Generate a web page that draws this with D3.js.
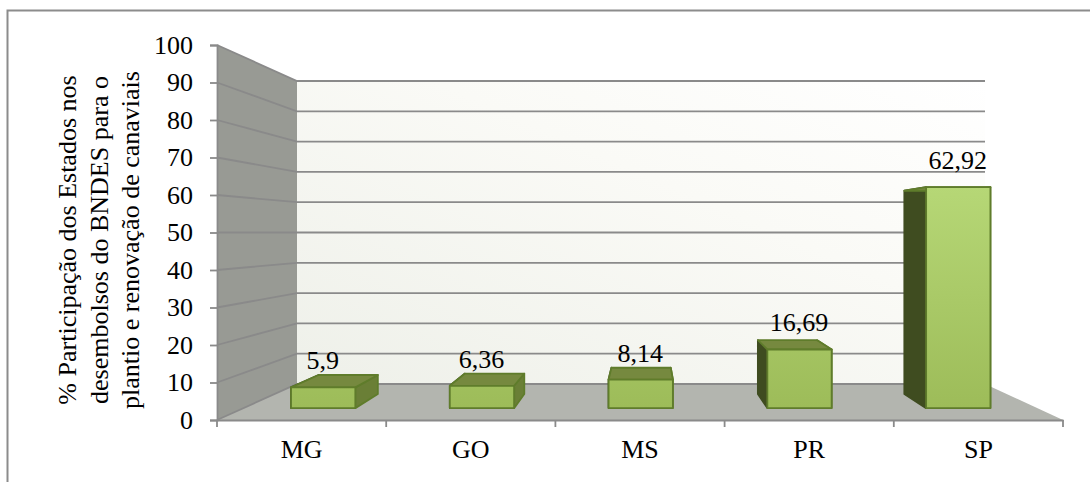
<!DOCTYPE html>
<html><head><meta charset="utf-8">
<style>html,body{margin:0;padding:0;background:#fff}svg{display:block}text{font-family:"Liberation Serif",serif;fill:#000}</style>
<script src="https://cdn.jsdelivr.net/npm/d3@7/dist/d3.min.js"></script>
</head><body>
<script>
// Disbursement share by state
const states = ["MG","GO","MS","PR","SP"];
const shares = [5.9,6.36,8.14,16.69,62.92];
const shareLabels = ["5,9","6,36","8,14","16,69","62,92"];
const yTicks = d3.range(0,101,10);
const titleLines = ["% Participação dos Estados nos","desembolsos do BNDES para o","plantio e renovação de canaviais"];

const W=1090,H=482,FONT=26;
const svg=d3.select("body").append("svg").attr("width",W).attr("height",H);

// Perspective box: depth 0 is the front plane, depth 1 the back wall
const left=d3.scaleLinear().domain([0,1]).range([217,297]);
const right=d3.scaleLinear().domain([0,1]).range([1063,985]);
const base=d3.scaleLinear().domain([0,1]).range([420,384]);
const perUnit=d3.scaleLinear().domain([0,1]).range([3.75,3.03]);
const band=d3.scaleLinear().domain([0,5]);
const px=(c,z)=>band.range([left(z),right(z)])(c);
const py=(v,z)=>base(z)-perUnit(z)*v;
const poly=pts=>pts.map(p=>p.join(",")).join(" ");

const defs=svg.append("defs");
const wallG=defs.append("linearGradient").attr("id","wall").attr("x1","0").attr("y1","1").attr("x2","1").attr("y2","0");
wallG.append("stop").attr("offset","0").attr("stop-color","#eef0e9");
wallG.append("stop").attr("offset","0.6").attr("stop-color","#fafaf6");
wallG.append("stop").attr("offset","1").attr("stop-color","#ffffff");
const barG=defs.append("linearGradient").attr("id","bar").attr("gradientUnits","userSpaceOnUse").attr("x1",0).attr("x2",0).attr("y1",py(62.92,.33)).attr("y2",base(.33));
barG.append("stop").attr("offset","0").attr("stop-color","#b6d776");
barG.append("stop").attr("offset","1").attr("stop-color","#9dbc59");

// Outer frame, open on the right and bottom
svg.append("path").attr("d","M7.5,482V10.5H1090").attr("fill","none").attr("stroke","#8c8c8c").attr("stroke-width",2);

// Back wall, side wall and floor
svg.append("rect").attr("x",left(1)).attr("y",py(100,1)).attr("width",right(1)-left(1)).attr("height",base(1)-py(100,1)).attr("fill","url(#wall)");
svg.append("polygon").attr("fill","#989a94").attr("points",poly([[left(0),py(100,0)],[left(1),py(100,1)],[left(1),base(1)],[left(0),base(0)]]));
svg.append("polygon").attr("fill","#b3b5af").attr("points",poly([[left(0),base(0)],[left(1),base(1)],[right(1),base(1)],[right(0),base(0)]]));

// Gridlines running across the side wall and the back wall
const grid=svg.append("g").attr("fill","none").attr("stroke","#8a8a8a").attr("stroke-width",1.8);
grid.selectAll("polyline").data(yTicks).join("polyline")
  .attr("points",v=>poly([[left(0),py(v,0)],[left(1),py(v,1)],[right(1),py(v,1)]]));

// Front value axis and category axis
const yScale=d3.scaleLinear().domain([0,100]).range([py(0,0),py(100,0)]);
const xScale=d3.scaleBand().domain(states).range([left(0),right(0)]);
const yAxis=svg.append("g").attr("transform",`translate(${left(0)},0)`)
  .call(d3.axisLeft(yScale).tickValues(yTicks).tickSize(7).tickPadding(17).tickFormat(d3.format("d")));
const xAxis=svg.append("g").attr("transform",`translate(0,${base(0)})`)
  .call(d3.axisBottom(xScale).tickSize(0).tickPadding(20));
[yAxis,xAxis].forEach(a=>{
  a.selectAll("path,line").attr("stroke","#8a8a8a").attr("stroke-width",1.8);
  a.selectAll("text").attr("font-size",FONT).attr("font-family",'"Liberation Serif",serif').attr("fill","#000");
});
xAxis.selectAll(".tick text").attr("dy","0.71em");
xAxis.selectAll("line.sep").data(d3.range(0,6)).join("line").attr("class","sep")
  .attr("x1",c=>px(c,0)).attr("x2",c=>px(c,0)).attr("y1",0).attr("y2",7)
  .attr("stroke","#8a8a8a").attr("stroke-width",1.8);

// Bars as boxes in perspective
const zF=.33,zB=.72,c0=.3,c1=.705;
const bars=svg.append("g").attr("stroke","#5f7c2b").attr("stroke-width",1.8).attr("stroke-linejoin","round");
shares.forEach((v,i)=>{
  const l=i+c0,r=i+c1;
  const g=bars.append("g");
  g.append("polygon").attr("fill","#3f4c20").attr("stroke","#3f4c20")
    .attr("points",poly([[px(l,zF),py(0,zF)],[px(l,zB),py(0,zB)],[px(l,zB),py(v,zB)],[px(l,zF),py(v,zF)]]));
  g.append("polygon").attr("fill","#6a7f36").attr("points",poly([[px(r,zF),py(0,zF)],[px(r,zB),py(0,zB)],[px(r,zB),py(v,zB)],[px(r,zF),py(v,zF)]]));
  g.append("polygon").attr("fill","#76893f").attr("points",poly([[px(l,zF),py(v,zF)],[px(l,zB),py(v,zB)],[px(r,zB),py(v,zB)],[px(r,zF),py(v,zF)]]));
  g.append("rect").attr("x",px(l,zF)).attr("y",py(v,zF)).attr("width",px(r,zF)-px(l,zF)).attr("height",py(0,zF)-py(v,zF)).attr("fill","url(#bar)");
});

// Value labels above each bar
svg.append("g").selectAll("text").data(shares).join("text")
  .attr("x",(d,i)=>px(i+.5,zF)).attr("y",d=>py(d,zF)-18)
  .attr("text-anchor","middle").attr("font-size",FONT).text((d,i)=>shareLabels[i]);

// Vertical title over three lines
svg.append("g").selectAll("text").data(titleLines).join("text")
  .attr("transform",(d,i)=>`translate(${76+i*31.5},240) rotate(-90)`)
  .attr("text-anchor","middle").attr("font-size",FONT).text(d=>d);
</script>
</body></html>
